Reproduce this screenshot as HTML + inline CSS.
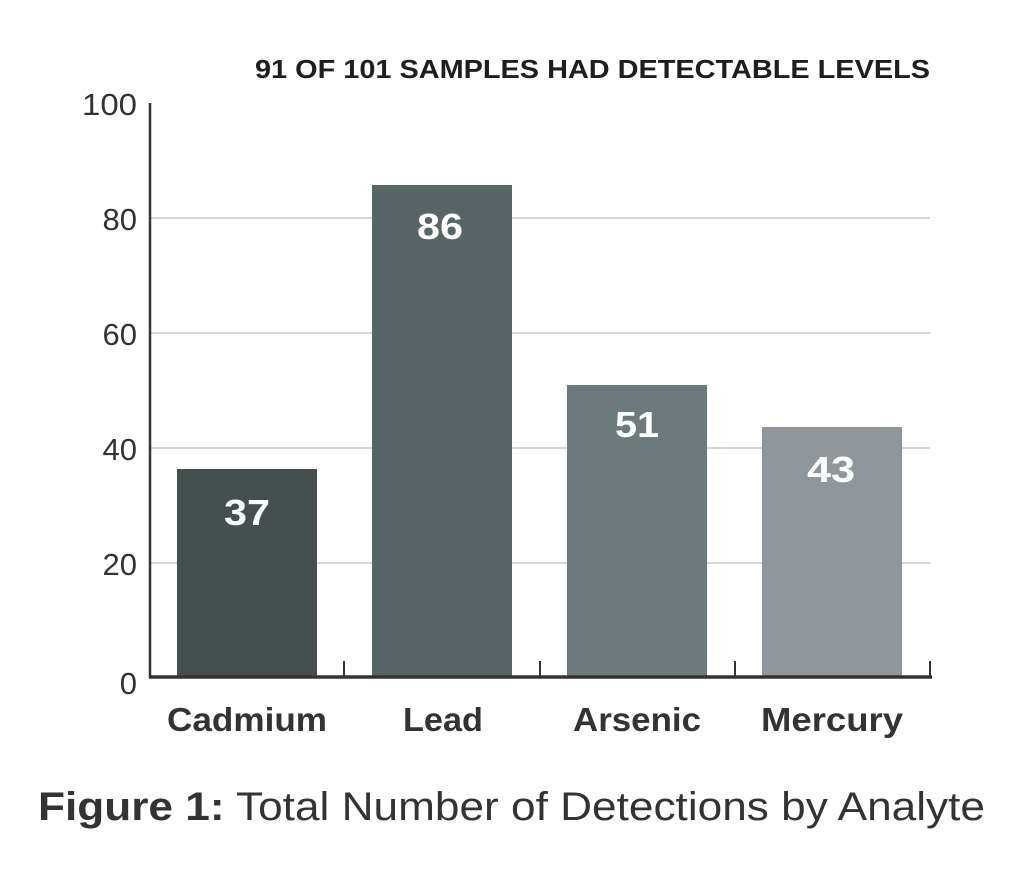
<!DOCTYPE html>
<html><head><style>
html,body{margin:0;padding:0;background:#fff;}
svg{display:block;}
text{font-family:"Liberation Sans","DejaVu Sans",sans-serif;}
</style></head><body>
<svg width="1020" height="878" viewBox="0 0 1020 878" xmlns="http://www.w3.org/2000/svg">
<rect width="1020" height="878" fill="#fff"/>
<text x="255" y="78" font-size="26" font-weight="bold" fill="#1e1e1e" textLength="675" lengthAdjust="spacingAndGlyphs">91 OF 101 SAMPLES HAD DETECTABLE LEVELS</text>
<g stroke="#c8c8c8" stroke-width="1.5">
<line x1="150" y1="218" x2="930" y2="218"/>
<line x1="150" y1="333" x2="930" y2="333"/>
<line x1="150" y1="448" x2="930" y2="448"/>
<line x1="150" y1="563" x2="930" y2="563"/>
</g>
<g font-size="31" fill="#333" text-anchor="end">
<text x="137" y="115" textLength="55" lengthAdjust="spacingAndGlyphs">100</text>
<text x="137" y="230">80</text>
<text x="137" y="345">60</text>
<text x="137" y="460">40</text>
<text x="137" y="575">20</text>
<text x="137" y="694">0</text>
</g>
<rect x="177" y="469" width="140" height="208" fill="#454f4f"/>
<rect x="372" y="185" width="140" height="492" fill="#566565"/>
<rect x="567" y="385" width="140" height="292" fill="#6b7a7d"/>
<rect x="762" y="427" width="140" height="250" fill="#8f979c"/>
<line x1="150" y1="103" x2="150" y2="678" stroke="#333" stroke-width="2.5"/>
<line x1="149" y1="677" x2="932" y2="677" stroke="#333" stroke-width="3.5"/>
<g stroke="#333" stroke-width="2">
<line x1="344" y1="661" x2="344" y2="677"/>
<line x1="540" y1="661" x2="540" y2="677"/>
<line x1="735" y1="661" x2="735" y2="677"/>
<line x1="930" y1="661" x2="930" y2="677"/>
</g>
<g font-size="36" font-weight="bold" fill="#fff">
<text x="224" y="525" textLength="46" lengthAdjust="spacingAndGlyphs">37</text>
<text x="417" y="239" textLength="46" lengthAdjust="spacingAndGlyphs">86</text>
<text x="615" y="437" textLength="44" lengthAdjust="spacingAndGlyphs">51</text>
<text x="807" y="482" textLength="48" lengthAdjust="spacingAndGlyphs">43</text>
</g>
<g font-size="33" font-weight="bold" fill="#333">
<text x="167" y="731" textLength="160" lengthAdjust="spacingAndGlyphs">Cadmium</text>
<text x="403" y="731" textLength="80" lengthAdjust="spacingAndGlyphs">Lead</text>
<text x="573" y="731" textLength="128" lengthAdjust="spacingAndGlyphs">Arsenic</text>
<text x="761" y="731" textLength="142" lengthAdjust="spacingAndGlyphs">Mercury</text>
</g>
<text x="38" y="820" font-size="40" fill="#333" textLength="947" lengthAdjust="spacingAndGlyphs"><tspan font-weight="bold">Figure 1:</tspan> Total Number of Detections by Analyte</text>
</svg>
</body></html>
